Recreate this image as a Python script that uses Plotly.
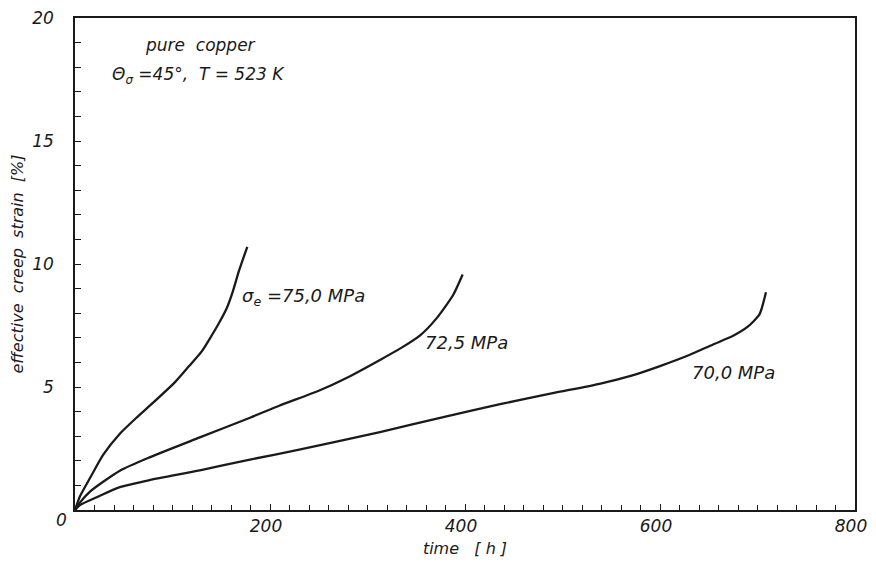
import plotly.graph_objects as go

# Data
t_750 = [0, 5, 15.4, 29, 46, 63, 77, 102.6, 117, 130, 138, 147, 155.6, 162, 168, 176.7]
e_750 = [0, 0.55, 1.3, 2.25, 3.1, 3.75, 4.25, 5.2, 5.85, 6.45, 6.95, 7.55, 8.2, 8.9, 9.7, 10.7]

t_725 = [0, 5, 15.4, 46, 77, 128, 179.5, 210, 250, 280, 312.8, 335, 354, 371, 388, 397.6]
e_725 = [0, 0.3, 0.75, 1.6, 2.15, 2.95, 3.75, 4.25, 4.85, 5.4, 6.1, 6.6, 7.1, 7.8, 8.75, 9.57]

t_700 = [0, 5, 22.3, 46, 77, 128, 179.5, 230, 312.8, 380, 436, 490, 538, 570, 600, 630, 654, 675, 690, 702, 708.7]
e_700 = [0, 0.2, 0.52, 0.93, 1.22, 1.61, 2.05, 2.45, 3.17, 3.8, 4.3, 4.75, 5.13, 5.45, 5.85, 6.3, 6.72, 7.08, 7.45, 7.95, 8.85]

x_ticks = [200, 400, 600, 800]
y_ticks = [5, 10, 15, 20]

FONT = "DejaVu Sans"
INK = "#1a1a1a"

fig = go.Figure()
for t, e in [(t_750, e_750), (t_725, e_725), (t_700, e_700)]:
    fig.add_trace(go.Scatter(x=t, y=e, mode="lines",
                             line=dict(color=INK, width=2.3, shape="spline", smoothing=0.6),
                             showlegend=False, hoverinfo="skip"))

def ann(x, y, text, xanchor="left", xref="x", yref="y", size=18):
    fig.add_annotation(x=x, y=y, xref=xref, yref=yref, text=text, showarrow=False,
                       xanchor=xanchor, yanchor="middle",
                       font=dict(family=FONT, size=size, color=INK, style="italic"))

ann(129, 18.9, "pure  copper", xanchor="center", size=17)
ann(36, 17.66, "Θ<sub>σ</sub> =45°,  T = 523 K", size=17)
ann(169, 8.64, "σ<sub>e</sub> =75,0 MPa")
ann(357, 6.81, "72,5 MPa")
ann(631, 5.59, "70,0 MPa")
ann(-0.017, -0.021, "0", xanchor="center", xref="paper", yref="paper", size=17)

axis_common = dict(showline=True, linecolor=INK, linewidth=1.6, mirror=True,
                   showgrid=False, zeroline=False, ticks="inside", tickcolor=INK,
                   automargin=False, ticklabeloverflow="allow",
                   tickfont=dict(family=FONT, size=17, color=INK, style="italic"))

fig.update_xaxes(range=[0, 800], tickvals=x_ticks, ticklen=6, ticklabelshift=-4,
                 minor=dict(dtick=20, ticks="inside", ticklen=5, tickcolor=INK),
                 title=dict(text="time   [ h ]", standoff=8,
                            font=dict(family=FONT, size=16, color=INK, style="italic")),
                 **axis_common)
fig.update_yaxes(range=[0, 20], tickvals=y_ticks, ticklen=6, ticklabelstandoff=16,
                 minor=dict(dtick=1, ticks="inside", ticklen=6, tickcolor=INK),
                 title=dict(text="effective  creep  strain  [%]", standoff=6,
                            font=dict(family=FONT, size=16, color=INK, style="italic")),
                 **axis_common)

# the page body adds an 8px offset; size the figure so the plot area lands where the reference has it
fig.update_layout(width=868, height=550, margin=dict(l=67, r=21, t=10, b=48),
                  plot_bgcolor="white", paper_bgcolor="white")

fig.write_html("out.html")
